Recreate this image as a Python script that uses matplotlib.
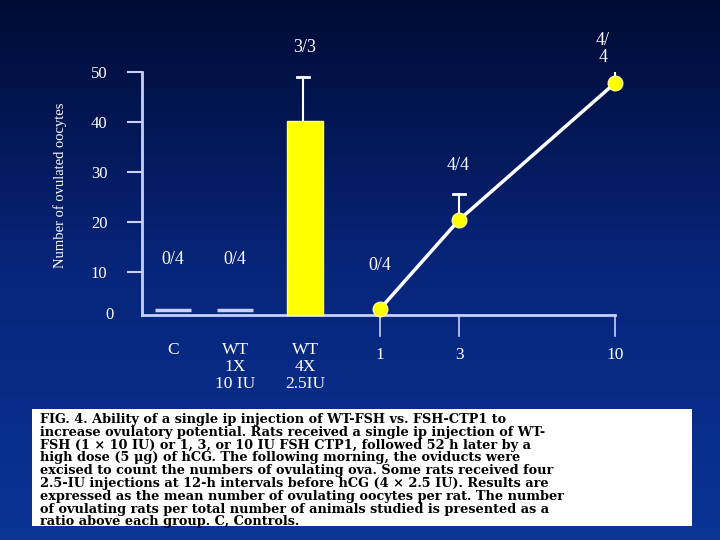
import numpy as np
import matplotlib.pyplot as plt
from matplotlib.colors import LinearSegmentedColormap

# 数据
groups = ['C', 'WT\n1X\n10 IU', 'WT\n4X\n2.5IU']
group_x = [173, 235, 305]
group_vals = [2.4, 2.4, 40.2]
group_err = [0, 0, 8.8]
group_ratio = ['0/4', '0/4', '3/3']

doses = ['1', '3', '10']
dose_x = [380, 459, 615]
dose_vals = [2.6, 20.4, 47.8]
dose_err = [0, 5.2, 6.6]
dose_ratio = ['0/4', '4/4', '4/\n4']

serif = ['Liberation Serif', 'DejaVu Serif']
axis_col = '#c8d0f8'
base = 1.4


def upper_err(ax, x, v, e, cap):
    # 只画上方误差线
    ax.plot([x, x], [v, v + e], color='white', lw=1.5, zorder=2)
    ax.plot([x - cap, x + cap], [v + e, v + e], color='white', lw=2, zorder=2)


fig = plt.figure(figsize=(7.2, 5.4), dpi=100)

# 背景渐变
bg = fig.add_axes([0, 0, 1, 1])
grad = np.linspace(0, 1, 256).reshape(-1, 1)
cmap = LinearSegmentedColormap.from_list('bg', ['#000b35', '#07257a', '#0a3496'])
bg.imshow(grad, aspect='auto', cmap=cmap, extent=[0, 1, 0, 1])
bg.axis('off')

ax = fig.add_axes([0, (540 - 332) / 540, 1, 260 / 540])
ax.set_xlim(0, 720)
ax.set_ylim(-2, 50)
ax.patch.set_alpha(0)
for s in ['top', 'right', 'bottom']:
    ax.spines[s].set_visible(False)
ax.spines['left'].set_position(('data', 142))
ax.spines['left'].set_bounds(base, 50)
ax.spines['left'].set_color(axis_col)
ax.spines['left'].set_linewidth(2)
ax.set_xticks([])
ax.set_yticks([10, 20, 30, 40, 50])
ax.tick_params(axis='y', length=11, width=1.5, color=axis_col, labelcolor='white',
               labelsize=12, pad=14)
for t in ax.get_yticklabels():
    t.set_family(serif)
ax.text(110, base, '0', color='white', fontsize=12, family=serif, ha='center', va='center')
ax.plot([142, 615], [base, base], color=axis_col, lw=2, clip_on=False)

# 分组柱
for x, v, e, r, g in zip(group_x, group_vals, group_err, group_ratio, groups):
    if e > 0:
        ax.bar(x, v - base, bottom=base, width=36, color='#ffff00', edgecolor='#ffff88', zorder=3)
        upper_err(ax, x - 2, v, e, 6)
        ax.text(x, v + e + 5, r, color='white', fontsize=13, family=serif, ha='center')
    else:
        ax.plot([x - 18, x + 18], [v, v], color=axis_col, lw=2.5, solid_capstyle='butt')
        ax.text(x, 11.5, r, color='white', fontsize=13, family=serif, ha='center')
    ax.text(x, -4, g, color='white', fontsize=12.5, family=serif, ha='center', va='top',
            linespacing=1.1, clip_on=False)

# 剂量曲线
ax.plot(dose_x, dose_vals, color='white', lw=2.5, zorder=3)
ax.scatter(dose_x, dose_vals, s=110, color='#ffff00', edgecolor='#ffff99', zorder=4)
for x, v, e in zip(dose_x, dose_vals, dose_err):
    if e > 0:
        upper_err(ax, x, v, e, 6)
for x, d in zip(dose_x, doses):
    ax.plot([x, x], [base, -2.8], color=axis_col, lw=1.2, clip_on=False)
    ax.text(x, -5, d, color='white', fontsize=12.5, family=serif, ha='center', va='top', clip_on=False)
ax.text(380, 10.5, dose_ratio[0], color='white', fontsize=13, family=serif, ha='center')
ax.text(458, 30.5, dose_ratio[1], color='white', fontsize=13, family=serif, ha='center')
ax.text(603, 52, dose_ratio[2], color='white', fontsize=13, family=serif, ha='center',
        linespacing=1.0, clip_on=False)

fig.text(60 / 720, 1 - 185 / 540, 'Number of ovulated oocytes', color='white', fontsize=10.5,
         family=serif, rotation=90, ha='center', va='center')

caption = ("FIG. 4. Ability of a single ip injection of WT-FSH vs. FSH-CTP1 to\n"
           "increase ovulatory potential. Rats received a single ip injection of WT-\n"
           "FSH (1 \u00d7 10 IU) or 1, 3, or 10 IU FSH CTP1, followed 52 h later by a\n"
           "high dose (5 \u03bcg) of hCG. The following morning, the oviducts were\n"
           "excised to count the numbers of ovulating ova. Some rats received four\n"
           "2.5-IU injections at 12-h intervals before hCG (4 \u00d7 2.5 IU). Results are\n"
           "expressed as the mean number of ovulating oocytes per rat. The number\n"
           "of ovulating rats per total number of animals studied is presented as a\n"
           "ratio above each group. C, Controls.")
box = plt.Rectangle((32 / 720, 1 - 526 / 540), 660 / 720, 117 / 540, transform=fig.transFigure,
                    facecolor='white', edgecolor='none')
fig.patches.append(box)
fig.text(40 / 720, 1 - 413 / 540, caption, color='black', fontsize=9.3, family='DejaVu Serif',
         weight='bold', ha='left', va='top', linespacing=0.98)

plt.savefig('out.png', dpi=100)
